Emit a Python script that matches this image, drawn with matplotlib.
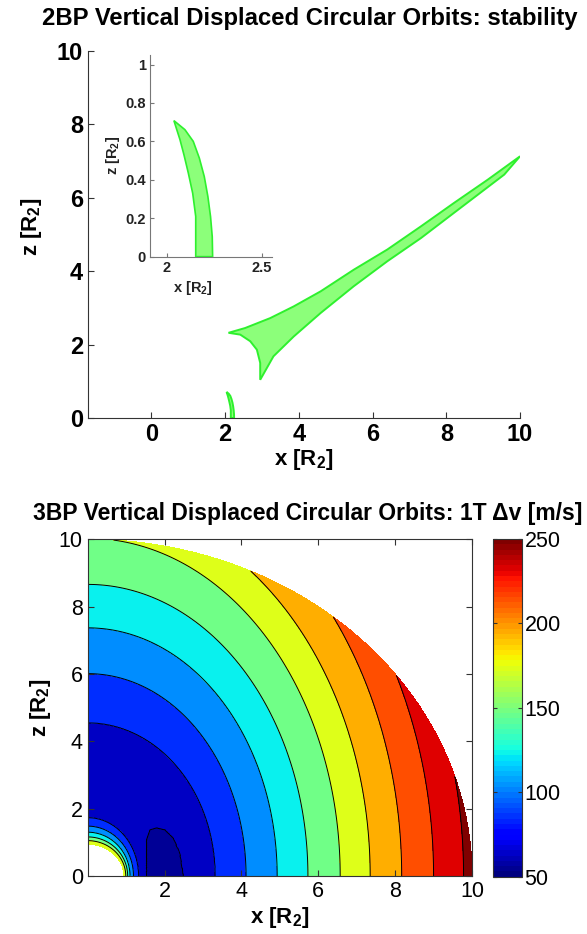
import numpy as np
import matplotlib
matplotlib.use("Agg")
import matplotlib.pyplot as plt
from matplotlib.path import Path
from matplotlib.colors import Normalize
from matplotlib.cm import ScalarMappable

plt.rcParams["font.family"] = ["Liberation Sans", "DejaVu Sans"]
plt.rcParams["mathtext.fontset"] = "custom"
plt.rcParams["mathtext.rm"] = "Liberation Sans"
plt.rcParams["mathtext.bf"] = "Liberation Sans:bold"
plt.rcParams["mathtext.it"] = "Liberation Sans:italic"

# ---- 2BP stability regions (polygon outlines) ----
reg1_x = [2.153, 2.242, 2.240, 2.231, 2.217, 2.198, 2.172, 2.140, 2.096, 2.038,
          2.070, 2.091, 2.114, 2.137, 2.153]
reg1_z = [0.0, 0.0, 0.104, 0.209, 0.313, 0.417, 0.513, 0.600, 0.661, 0.708,
          0.609, 0.530, 0.435, 0.330, 0.209]

reg2_x = [2.09, 2.54, 3.22, 3.86, 4.59, 5.49, 6.40, 7.31, 8.21, 9.12, 10.0,
          9.57, 8.21, 7.31, 6.40, 5.49, 4.59, 3.86, 3.31, 2.95,
          2.95, 2.86, 2.68, 2.41]
reg2_z = [2.32, 2.45, 2.72, 3.04, 3.45, 4.04, 4.59, 5.22, 5.86, 6.49, 7.13,
          6.63, 5.59, 4.90, 4.27, 3.59, 2.86, 2.22, 1.68, 1.04,
          1.50, 1.86, 2.09, 2.27]

# ---- 3BP delta-v field: contour crossings on the x and z axes ----
out_levels = [90, 110, 130, 150, 170, 190, 210, 230, 250]
out_a = [3.32, 4.12, 4.93, 5.73, 6.57, 7.35, 8.17, 9.00, 9.78]      # along x
out_b = [4.55, 6.01, 7.37, 8.66, 10.03, 11.09, 12.35, 13.2, 13.8]  # along z

in_levels = [190, 170, 150, 130, 110, 90]
in_a = [0.95, 0.99, 1.04, 1.10, 1.19, 1.32]
in_b = [0.95, 1.05, 1.16, 1.30, 1.48, 1.73]

# minimum lobe (< 70 m/s) outline
lobe_x = [1.53, 1.53, 1.62, 1.79, 2.01, 2.23, 2.40, 2.49, 2.49, 1.53]
lobe_z = [0.0, 1.07, 1.37, 1.43, 1.37, 1.12, 0.67, 0.0, -0.1, -0.1]

fill_levels = [50, 70, 90, 110, 130, 150, 170, 190, 210, 230, 250, 1000]
line_levels = [70, 90, 110, 130, 150, 170, 190, 210, 230, 250]
cbar_ticks = [50, 100, 150, 200, 250]

# build field on a polar grid
r = np.linspace(0.94, 10, 700)
th = np.linspace(0, np.pi / 2, 450)
RR, TT = np.meshgrid(r, th)
X = RR * np.cos(TT)
Z = RR * np.sin(TT)
V = np.zeros_like(RR)
oa, ob = np.array(out_a), np.array(out_b)
ia, ib = np.array(in_a), np.array(in_b)
for i, t in enumerate(th):
    c, s = np.cos(t), np.sin(t)
    Ro = 1 / np.sqrt((c / oa) ** 2 + (s / ob) ** 2)
    Ri = 1 / np.sqrt((c / ia) ** 2 + (s / ib) ** 2)
    vo = np.interp(r, np.r_[0, Ro, Ro[-1] * 1.2], np.r_[80, out_levels, 290])
    vi = np.interp(r, np.r_[Ri, Ri[-1] * 1.3], np.r_[in_levels, 80])
    V[i] = np.maximum(vo, vi)
lobe = Path(np.column_stack([lobe_x, lobe_z]))
inside = lobe.contains_points(np.column_stack([X.ravel(), Z.ravel()])).reshape(X.shape)
V[inside] = 60

jet = plt.get_cmap("jet")
jet64 = plt.get_cmap("jet", 64)
band_pos = [0.02, 0.06, 0.17, 0.265, 0.36, 0.486, 0.62, 0.724, 0.826, 0.916, 1.0]
band_colors = [jet(p) for p in band_pos]

fig = plt.figure(figsize=(5.87, 9.34), dpi=100)
spine_c = "#333333"
green_face = "#8cff7a"
green_edge = "#2ef02e"

# ---------------- top panel ----------------
ax1 = fig.add_axes([0.150, 0.5525, 0.736, 0.393])
for rx, rz in [(reg1_x, reg1_z), (reg2_x, reg2_z)]:
    ax1.fill(rx, rz, facecolor=green_face, edgecolor=green_edge, linewidth=1.4)
ax1.set_xlim(-1.72, 10)
ax1.set_ylim(0, 10)
ax1.set_xticks([0, 2, 4, 6, 8, 10])
ax1.set_yticks([0, 2, 4, 6, 8, 10])
ax1.spines["top"].set_visible(False)
ax1.spines["right"].set_visible(False)
for sp in ax1.spines.values():
    sp.set_color(spine_c)
ax1.tick_params(direction="in", length=4, labelsize=17, colors=spine_c, labelcolor="black")
for lab in ax1.get_xticklabels() + ax1.get_yticklabels():
    lab.set_fontweight("bold")
ax1.set_xlabel(r"x [R$_\mathbf{2}$]", fontsize=16, fontweight="bold", labelpad=1)
ax1.set_ylabel(r"z [R$_\mathbf{2}$]", fontsize=16, fontweight="bold")
ax1.yaxis.set_label_coords(-0.102, 0.52)
fig.text(0.527, 0.980, "2BP Vertical Displaced Circular Orbits: stability",
         ha="center", va="center", fontsize=17.2, fontweight="bold")

# inset
ax2 = fig.add_axes([0.2555, 0.7252, 0.2073, 0.216])
ax2.fill(reg1_x, reg1_z, facecolor=green_face, edgecolor=green_edge, linewidth=1.2)
ax2.set_xlim(1.912, 2.553)
ax2.set_ylim(0, 1.05)
ax2.set_xticks([2, 2.5])
ax2.set_xticklabels(["2", "2.5"])
ax2.set_yticks([0, 0.2, 0.4, 0.6, 0.8, 1])
ax2.set_yticklabels(["0", "0.2", "0.4", "0.6", "0.8", "1"])
ax2.spines["top"].set_visible(False)
ax2.spines["right"].set_visible(False)
for sp in ax2.spines.values():
    sp.set_color("#777777")
ax2.tick_params(direction="in", length=3, labelsize=10.5, colors="#777777",
                labelcolor="#222222", pad=3)
for lab in ax2.get_xticklabels() + ax2.get_yticklabels():
    lab.set_fontweight("bold")
ax2.set_xlabel(r"x [R$_\mathbf{2}$]", fontsize=10.5, fontweight="bold", labelpad=1, color="#222222")
ax2.set_ylabel(r"z [R$_\mathbf{2}$]", fontsize=10.5, fontweight="bold", labelpad=2, color="#222222")
ax2.xaxis.set_label_coords(0.35, -0.11)

# ---------------- bottom panel ----------------
ax3 = fig.add_axes([0.1494, 0.0621, 0.6547, 0.3605])
ax3.contourf(X, Z, V, levels=fill_levels, colors=band_colors)
ax3.contour(X, Z, V, levels=line_levels, colors="k", linewidths=0.7)
ax3.set_xlim(0, 10)
ax3.set_ylim(0, 10)
ax3.set_xticks([2, 4, 6, 8, 10])
ax3.set_yticks([0, 2, 4, 6, 8, 10])
for sp in ax3.spines.values():
    sp.set_color(spine_c)
ax3.tick_params(direction="in", length=4, labelsize=15.5, top=True, right=True,
                colors=spine_c, labelcolor="black")
ax3.set_xlabel(r"x [R$_\mathbf{2}$]", fontsize=16, fontweight="bold", labelpad=2)
ax3.set_ylabel(r"z [R$_\mathbf{2}$]", fontsize=16, fontweight="bold", labelpad=4)
fig.text(0.525, 0.4507, "3BP Vertical Displaced Circular Orbits: 1T Δv [m/s]",
         ha="center", va="center", fontsize=16.5, fontweight="bold")

cax = fig.add_axes([0.8394, 0.0613, 0.0494, 0.3616])
sm = ScalarMappable(norm=Normalize(50, 250), cmap=jet64)
cb = fig.colorbar(sm, cax=cax, ticks=cbar_ticks)
cb.outline.set_edgecolor(spine_c)
cax.tick_params(direction="in", length=3, labelsize=15.5, left=True, right=True,
                colors=spine_c, labelcolor="black", pad=2)

fig.savefig("out.png", dpi=100)
